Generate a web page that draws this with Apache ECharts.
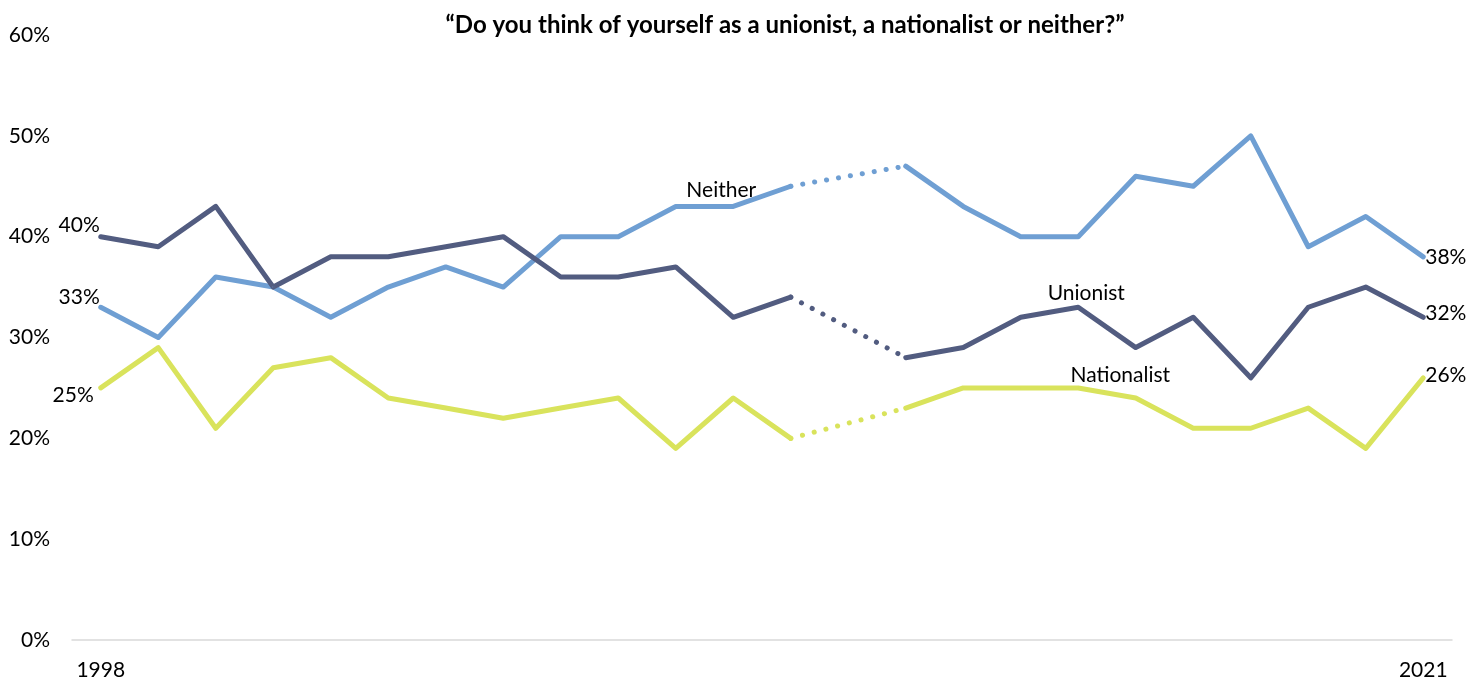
<!DOCTYPE html>
<html><head><meta charset="utf-8">
<script src="https://cdn.jsdelivr.net/npm/echarts@6/dist/echarts.min.js"></script>
<style>html,body{margin:0;padding:0;background:#fff}#c{width:1470px;height:682px}</style>
</head><body><div id="c"></div>
<script>
var years = ['1998','1999','2000','2001','2002','2003','2004','2005','2006','2007','2008','2009','2010','2011','2012','2013','2014','2015','2016','2017','2018','2019','2020','2021'];
var neither     = [33,30,36,35,32,35,37,35,40,40,43,43,45,null,47,43,40,40,46,45,50,39,42,38];
var unionist    = [40,39,43,35,38,38,39,40,36,36,37,32,34,null,28,29,32,33,29,32,26,33,35,32];
var nationalist = [25,29,21,27,28,24,23,22,23,24,19,24,20,null,23,25,25,25,24,21,21,23,19,26];
var yTicks = ['0%','10%','20%','30%','40%','50%','60%'];
var titleText = '\u201cDo you think of yourself as a unionist, a nationalist or neither?\u201d';

var FONT = 'Lato, "Open Sans", sans-serif';
var FS = 21;
var gapIdx = years.indexOf('2011');

function gapData(arr){
  return arr.map(function(v,i){ return (i===gapIdx-1 || i===gapIdx+1) ? arr[i] : null; });
}
var lblStyle = {color:'#000', fontSize:FS, fontFamily:FONT, opacity:1};
function mainData(arr, nameIdx, nameText, nameOffset, startOffset, endOffset){
  var n = arr.length;
  return arr.map(function(v,i){
    if(v===null) return null;
    var item = {value:v};
    if(i===0){
      item.label = Object.assign({show:true, position:'left', formatter:'{c}%', offset:startOffset, distance:2}, lblStyle);
    } else if(i===n-1){
      item.label = Object.assign({show:true, position:'right', formatter:'{c}%', offset:endOffset, distance:1}, lblStyle);
    } else if(i===nameIdx){
      item.label = Object.assign({show:true, position:'top', formatter:nameText, offset:nameOffset}, lblStyle);
    }
    return item;
  });
}
function mk(name, color, arr, nameIdx, nameOffset, startOffset, endOffset){
  return [{
    name:name, type:'line', data:mainData(arr,nameIdx,name,nameOffset,startOffset,endOffset),
    symbol:'circle', symbolSize:2, showSymbol:true, showAllSymbol:true, smooth:false, connectNulls:false,
    lineStyle:{color:color, width:5, cap:'round', join:'round'},
    itemStyle:{color:color},
    label:Object.assign({}, lblStyle, {show:false}),
    z:3
  },{
    name:name+'-gap', type:'line', data:gapData(arr),
    symbol:'none', connectNulls:true,
    lineStyle:{color:color, width:5, type:[0.1,12], cap:'round'},
    z:2
  }];
}

var chart = echarts.init(document.getElementById('c'));
var series = [].concat(
  mk('Neither', '#6f9fd3', neither, years.indexOf('2009'), [-12,0], [2,-10], [0,0]),
  mk('Unionist', '#525c80', unionist, years.indexOf('2015'), [8,2], [2,-11], [0,-4]),
  mk('Nationalist', '#d9e35c', nationalist, years.indexOf('2015'), [42,4], [-4,7], [0,-3])
);
chart.setOption({
  animation:false,
  title:{text:titleText, left:780, top:8, textAlign:'center',
    textStyle:{fontFamily:FONT, fontSize:24, fontWeight:'bold', color:'#000'}},
  grid:{left:72, right:18, top:35, bottom:42, containLabel:false},
  xAxis:{type:'category', data:years, boundaryGap:true,
    axisLine:{lineStyle:{color:'#d9d9d9', width:1.5}},
    axisTick:{show:false},
    axisLabel:{interval:0, margin:20, fontSize:FS, fontFamily:FONT, color:'#000',
      formatter:function(v,i){ return (i===0||i===years.length-1)?v:''; }}
  },
  yAxis:{type:'value', min:0, max:60, interval:10,
    axisLine:{show:false}, axisTick:{show:false}, splitLine:{show:false},
    axisLabel:{margin:22, fontSize:FS, fontFamily:FONT, color:'#000',
      formatter:function(v){ return yTicks[Math.round(v/10)]; }}
  },
  series:series
});
</script></body></html>
